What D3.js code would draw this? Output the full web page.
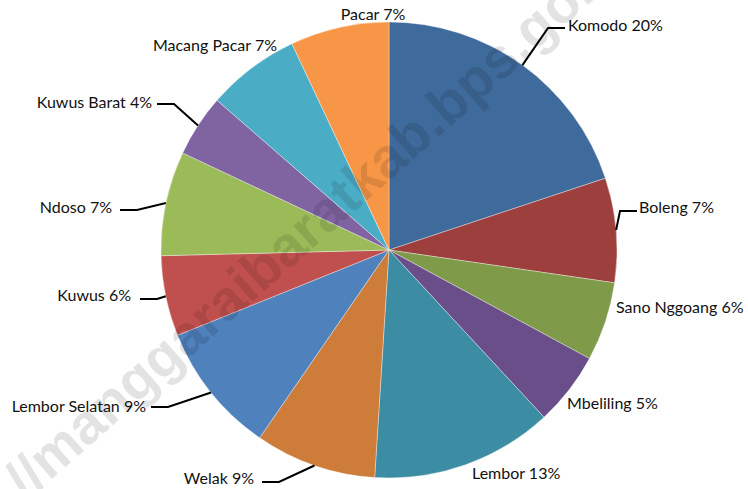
<!DOCTYPE html>
<html lang="id">
<head>
<meta charset="UTF-8">
<title>Pie chart kecamatan</title>
<style>
  html, body { margin: 0; padding: 0; background: #fff; }
  svg { display: block; }
</style>
</head>
<body>
<svg id="chart"></svg>

<script src="https://cdnjs.cloudflare.com/ajax/libs/d3/7.8.5/d3.min.js"></script>
<script>
// data, clockwise from 12 o'clock
const kecamatan = ['Komodo', 'Boleng', 'Sano Nggoang', 'Mbeliling', 'Lembor', 'Welak',
                   'Lembor Selatan', 'Kuwus', 'Ndoso', 'Kuwus Barat', 'Macang Pacar', 'Pacar'];
const persen = [19.9, 7.4, 5.6, 5.2, 12.9, 8.6, 9.3, 5.7, 7.4, 4.4, 6.6, 7.0];
const warna = ['#3F6B9C', '#9D403D', '#7F9B4A', '#6A4E89', '#3C8DA3', '#CD7C39',
               '#4F81BD', '#C0504D', '#9BBB59', '#8064A2', '#4BACC6', '#F79646'];

const width = 748, height = 489;
const cx = 389, cy = 250, radius = 228;

// label placement (relative to pie centre): text x, baseline y, anchor, elbow of leader line
const labelLayout = [
  { x: 179,  y: -219, anchor: 'start', elbow: [159, -222] },
  { x: 250,  y: -37,  anchor: 'start', elbow: [231, -39] },
  { x: 227,  y: 63,   anchor: 'start', elbow: null },
  { x: 178,  y: 159,  anchor: 'start', elbow: null },
  { x: 83,   y: 229,  anchor: 'start', elbow: null },
  { x: -135, y: 234,  anchor: 'end',   elbow: [-110, 232] },
  { x: -243, y: 162,  anchor: 'end',   elbow: [-221, 157] },
  { x: -258, y: 51,   anchor: 'end',   elbow: [-232, 49] },
  { x: -277, y: -37,  anchor: 'end',   elbow: [-252, -40] },
  { x: -237, y: -142, anchor: 'end',   elbow: [-215, -146] },
  { x: -112, y: -199, anchor: 'end',   elbow: null },
  { x: -16,  y: -230, anchor: 'middle', elbow: null },
];

const svg = d3.select('#chart')
  .attr('width', width)
  .attr('height', height);

const g = svg.append('g')
  .attr('transform', `translate(${cx},${cy})`);

const pie = d3.pie().sort(null).value(d => d);
const arcs = pie(persen);
const arc = d3.arc().innerRadius(0).outerRadius(radius);

g.selectAll('path.slice')
  .data(arcs)
  .join('path')
  .attr('class', 'slice')
  .attr('d', arc)
  .attr('fill', (d, i) => warna[i])
  .attr('stroke', '#ffffff')
  .attr('stroke-opacity', 0.6)
  .attr('stroke-width', 0.6);

// leader lines
const leaders = arcs.map((d, i) => ({ d, i, lay: labelLayout[i] })).filter(o => o.lay.elbow);
g.selectAll('path.leader')
  .data(leaders)
  .join('path')
  .attr('class', 'leader')
  .attr('fill', 'none')
  .attr('stroke', '#000')
  .attr('stroke-width', 2)
  .attr('d', o => {
    const mid = (o.d.startAngle + o.d.endAngle) / 2;
    const p0 = [Math.sin(mid) * radius, -Math.cos(mid) * radius];
    const e = o.lay.elbow;
    const dir = o.lay.anchor === 'start' ? 1 : -1;
    const p2 = [e[0] + dir * 17, e[1]];
    return d3.line()([p0, e, p2]);
  });

// labels
const fmt = d3.format('.0f');
g.selectAll('text.lbl')
  .data(arcs)
  .join('text')
  .attr('class', 'lbl')
  .attr('x', (d, i) => labelLayout[i].x)
  .attr('y', (d, i) => labelLayout[i].y)
  .attr('text-anchor', (d, i) => labelLayout[i].anchor)
  .attr('font-family', 'Lato, "Open Sans", sans-serif')
  .attr('font-size', '16px')
  .attr('fill', '#111')
  .text((d, i) => `${kecamatan[i]} ${fmt(d.value)}%`);

// watermark
svg.append('text')
  .attr('transform', 'translate(26,502) rotate(-41.5)')
  .attr('font-family', '"Liberation Sans", Arial, sans-serif')
  .attr('font-weight', 'bold')
  .attr('font-size', '56px')
  .attr('fill', '#000')
  .attr('fill-opacity', 0.11)
  .text('//manggaraibaratkab.bps.go.id');
</script>
</body>
</html>
